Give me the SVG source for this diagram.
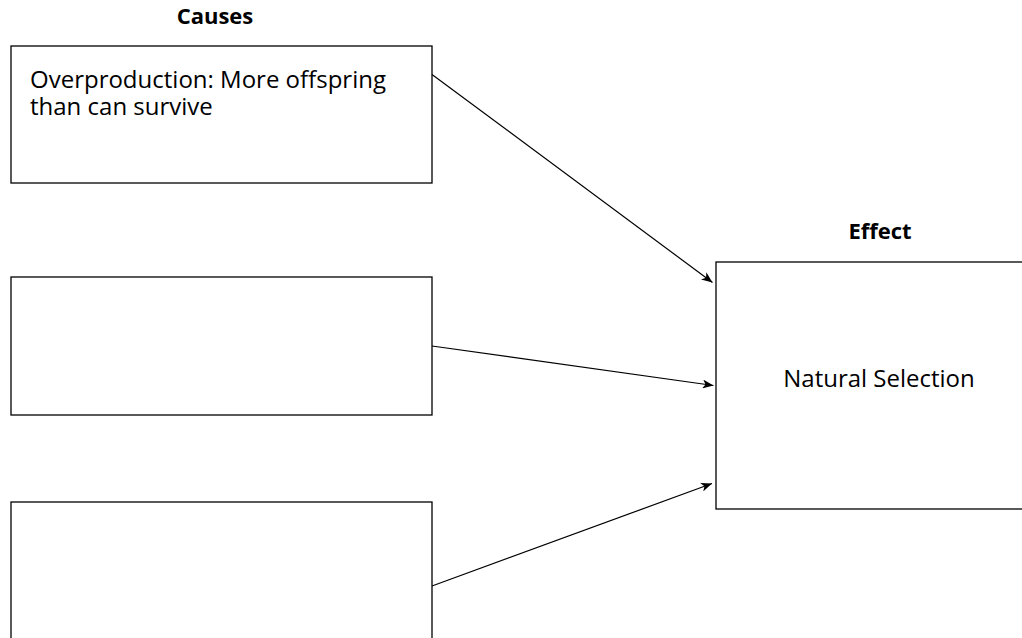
<svg xmlns="http://www.w3.org/2000/svg" width="1022" height="638" viewBox="0 0 1022 638">
  <style>
    .box { fill: #ffffff; stroke: #000000; stroke-width: 1.3; }
    .hdr { font-family: "Open Sans", "Noto Sans", "Liberation Sans", sans-serif; font-size: 22px; font-weight: bold; fill: #000000; text-anchor: middle; }
    .txt { font-family: "Open Sans", "Noto Sans", "Liberation Sans", sans-serif; font-size: 24px; fill: #000000; }
    .conn { fill: none; stroke: #000000; stroke-width: 1.2; }
  </style>
  <defs>
    <marker id="arrow" viewBox="0 0 11 9" refX="11" refY="4.5" markerWidth="11" markerHeight="9" markerUnits="userSpaceOnUse" orient="auto">
      <path d="M0,0 L11,4.5 L0,9 L3,4.5 Z" fill="#000000"/>
    </marker>
  </defs>
  <rect width="1022" height="638" fill="#ffffff"/>

  <text class="hdr" x="215" y="24">Causes</text>
  <text class="hdr" x="880" y="239">Effect</text>

  <g id="cause1">
    <rect class="box" x="11" y="46" width="421" height="137"/>
    <text class="txt" x="30" y="88"><tspan x="30" y="88">Overproduction: More offspring</tspan><tspan x="30" y="114.5">than can survive</tspan></text>
  </g>
  <g id="cause2">
    <rect class="box" x="11" y="277" width="421" height="138"/>
  </g>
  <g id="cause3">
    <rect class="box" x="11" y="502" width="421" height="140"/>
  </g>
  <g id="effect">
    <rect class="box" x="716" y="262" width="330" height="247"/>
    <text class="txt" x="879" y="387" text-anchor="middle">Natural Selection</text>
  </g>

  <g id="connectors">
    <line class="conn" x1="432" y1="74.5" x2="712.5" y2="282.5" marker-end="url(#arrow)"/>
    <line class="conn" x1="432" y1="346" x2="713.5" y2="385.5" marker-end="url(#arrow)"/>
    <line class="conn" x1="432" y1="586" x2="712" y2="483.5" marker-end="url(#arrow)"/>
  </g>
</svg>
